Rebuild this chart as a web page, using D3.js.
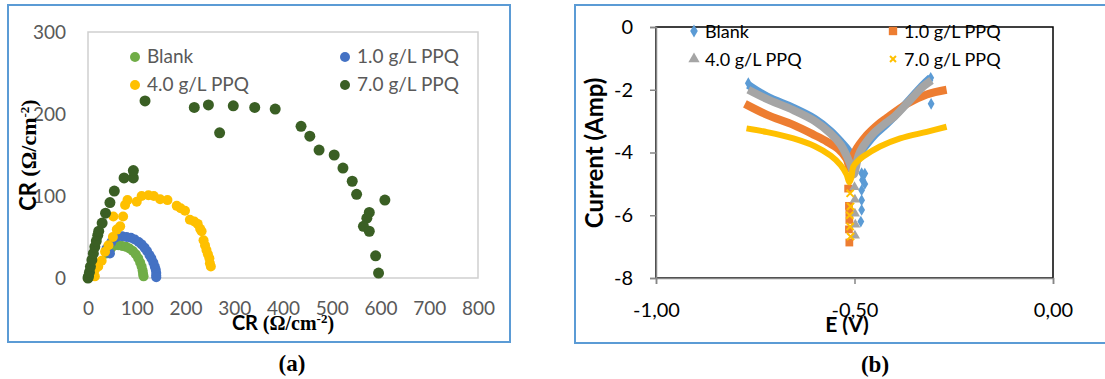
<!DOCTYPE html>
<html>
<head>
<meta charset="utf-8">
<script src="https://cdn.jsdelivr.net/npm/d3@7"></script>
<style>
  body { margin: 0; background: #fff; }
  svg { display: block; }
</style>
</head>
<body>
<div id="chart"></div>
<script>
// ---- (a) impedance data, [Z', Z''] ----
var blankNyq = [[0,0],[38,30],[42,34],[48,37],[55,40],[62,40],[70,39],[78,38],[85,36],[92,33],[98,29],[103,24],[107,19],[110,14],[112,9],[113,5],[114,2]];
var ppq1Nyq = [[38,36],[45,30],[48,44],[55,49],[62,51],[70,51],[79,50],[88,49],[96,47],[104,44],[110,41],[116,37],[121,33],[126,28],[130,24],[134,19],[137,14],[139,10],[140,6],[140,3],[140,1]];
var ppq4Nyq = [[0,0],[5,3],[14,2],[14,10],[21,14],[28,21],[35,32],[42,40],[51,50],[59,59],[52,75],[66,63],[72,75],[76,89],[81,95],[100,93],[110,100],[124,101],[135,100],[148,96],[163,95],[182,88],[190,85],[199,82],[209,71],[218,69],[225,66],[230,60],[233,57],[237,46],[240,40],[243,34],[246,29],[249,24],[250,18],[252,14]];
var ppq7Nyq = [[0,0],[1,2],[3,7],[5,14],[8,22],[11,30],[14,38],[17,45],[20,52],[22,57],[29,67],[36,79],[45,92],[54,106],[74,122],[93,122],[93,131],
  [117,216],[218,208],[247,211],[270,177],[298,210],[342,208],[384,206],[437,185],[455,173],[474,156],[505,150],[523,134],[542,118],[551,102],[609,95],[577,80],[572,73],[565,63],[577,57],[590,27],[596,6]];
var nyqTicksX = [0,100,200,300,400,500,600,700,800];
var nyqTicksY = [0,100,200,300];

// ---- (b) polarization data, [E (V), log current] ----
var blankBand = [[-0.7675,-1.85],[-0.72,-2.22],[-0.654,-2.58],[-0.6,-2.93],[-0.56,-3.32],[-0.535,-3.65],[-0.515,-3.95],[-0.503,-4.3],[-0.495,-4.3],[-0.485,-4.0],[-0.47,-3.75],[-0.45,-3.45],[-0.42,-3.1],[-0.4,-2.85],[-0.36,-2.3],[-0.33,-1.88],[-0.308,-1.62]];
var blankPts = [[-0.7675,-1.79],[-0.482,-4.66],[-0.474,-4.67],[-0.48,-4.88],[-0.474,-5.0],[-0.482,-5.2],[-0.482,-5.52],[-0.482,-5.83],[-0.484,-6.2],[-0.307,-2.45],[-0.308,-1.62]];
var ppq1Band = [[-0.776,-2.45],[-0.72,-2.8],[-0.654,-3.12],[-0.6,-3.45],[-0.57,-3.65],[-0.54,-3.9],[-0.52,-4.2],[-0.512,-4.5],[-0.508,-4.3],[-0.5,-4.0],[-0.469,-3.45],[-0.44,-3.1],[-0.419,-2.9],[-0.368,-2.45],[-0.318,-2.15],[-0.268,-2.0]];
var ppq1Pts = [[-0.516,-5.15],[-0.514,-5.7],[-0.513,-5.9],[-0.513,-6.15],[-0.514,-6.45],[-0.513,-6.87]];
var ppq4Band = [[-0.7675,-2.0],[-0.72,-2.3],[-0.654,-2.65],[-0.6,-3.0],[-0.56,-3.4],[-0.535,-3.75],[-0.52,-4.1],[-0.507,-4.5],[-0.502,-4.7],[-0.497,-4.5],[-0.49,-4.1],[-0.478,-3.8],[-0.453,-3.4],[-0.42,-3.05],[-0.4,-2.86],[-0.36,-2.33],[-0.327,-1.9],[-0.306,-1.7]];
var ppq4Pts = [[-0.5,-5.1],[-0.499,-5.5],[-0.499,-5.95],[-0.498,-6.3],[-0.499,-6.65]];
var ppq7Band = [[-0.772,-3.23],[-0.72,-3.35],[-0.654,-3.55],[-0.6,-3.8],[-0.56,-4.1],[-0.535,-4.4],[-0.52,-4.7],[-0.513,-4.95],[-0.508,-4.8],[-0.503,-4.45],[-0.49,-4.25],[-0.478,-4.13],[-0.436,-3.81],[-0.385,-3.55],[-0.318,-3.34],[-0.268,-3.18]];
var ppq7Pts = [[-0.511,-5.3],[-0.51,-5.72],[-0.512,-6.0],[-0.511,-6.36],[-0.51,-6.68]];
var tafTicksX = [-1, -0.5, 0];
var tafTicksY = [0,-2,-4,-6,-8];

var labels = ["Blank", "1.0 g/L PPQ", "4.0 g/L PPQ", "7.0 g/L PPQ"];

var svg = d3.select("#chart").append("svg")
  .attr("width", 1105)
  .attr("height", 379)
  .style("background", "#fff");

var sans = "Lato, 'Open Sans', sans-serif";
var serif = "'Liberation Serif', 'DejaVu Serif', serif";

// ================= panel (a) =================
svg.append("rect")
  .attr("x", 8).attr("y", 5).attr("width", 502).attr("height", 337)
  .attr("fill", "none").attr("stroke", "#5b9bd5").attr("stroke-width", 2);

var xa = d3.scaleLinear().domain([0, 800]).range([88, 478]);
var ya = d3.scaleLinear().domain([0, 300]).range([278, 32]);

svg.append("rect")
  .attr("x", 88).attr("y", 32).attr("width", 390).attr("height", 246)
  .attr("fill", "none").attr("stroke", "#cfcfcf").attr("stroke-width", 1.5);

var axA = svg.append("g").attr("transform", "translate(0,278)")
  .call(d3.axisBottom(xa).tickValues(nyqTicksX).tickSize(0).tickPadding(24).tickFormat(d3.format("d")));
var ayA = svg.append("g").attr("transform", "translate(88,0)")
  .call(d3.axisLeft(ya).tickValues(nyqTicksY).tickSize(0).tickPadding(22).tickFormat(d3.format("d")));
[axA, ayA].forEach(function (g) {
  g.select(".domain").remove();
  g.selectAll("text").attr("fill", "#595959").style("font-family", sans).style("font-size", "19px");
});

var nyqSeries = [
  { data: blankNyq, color: "#70ad47", r: 5 },
  { data: ppq1Nyq, color: "#4472c4", r: 5 },
  { data: ppq4Nyq, color: "#ffc000", r: 5 },
  { data: ppq7Nyq, color: "#3a5f24", r: 5.5 }
];
nyqSeries.forEach(function (s) {
  svg.append("g").selectAll("circle")
    .data(s.data)
    .enter()
    .append("circle")
    .attr("cx", function (d) { return xa(d[0]); })
    .attr("cy", function (d) { return ya(d[1]); })
    .attr("r", s.r)
    .style("fill", s.color);
});

// legend (a)
var legA = [[135, 57], [345, 57], [135, 85], [345, 85]];
legA.forEach(function (p, i) {
  svg.append("circle").attr("cx", p[0]).attr("cy", p[1]).attr("r", 5).style("fill", nyqSeries[i].color);
  svg.append("text").attr("x", p[0] + 12).attr("y", p[1] + 6)
    .text(labels[i]).attr("fill", "#595959")
    .style("font-family", sans).style("font-size", "19px");
});

function crTitle(g) {
  g.append("tspan").style("font-family", sans).text("CR ");
  g.append("tspan").style("font-family", serif).text("(Ω/cm");
  g.append("tspan").style("font-family", serif).attr("dy", -7).style("font-size", "13px").text("-2");
  g.append("tspan").style("font-family", serif).attr("dy", 7).text(")");
}
var xtA = svg.append("text").attr("x", 283).attr("y", 330).attr("text-anchor", "middle")
  .style("font-weight", "bold").style("font-size", "20px").attr("fill", "#000");
crTitle(xtA);
var ytA = svg.append("text").attr("transform", "translate(36,155) rotate(-90)").attr("text-anchor", "middle")
  .style("font-weight", "bold").style("font-size", "22px").attr("fill", "#000");
crTitle(ytA);

svg.append("text").attr("x", 292).attr("y", 371).attr("text-anchor", "middle")
  .style("font-family", serif).style("font-weight", "bold").style("font-size", "23px").text("(a)");

// ================= panel (b) =================
svg.append("rect")
  .attr("x", 575).attr("y", 5).attr("width", 540).attr("height", 338)
  .attr("fill", "none").attr("stroke", "#5b9bd5").attr("stroke-width", 2);

var xb = d3.scaleLinear().domain([-1, 0]).range([656, 1053]);
var yb = d3.scaleLinear().domain([-8, 0]).range([278, 27]);

svg.append("rect")
  .attr("x", 656).attr("y", 27).attr("width", 397).attr("height", 251)
  .attr("fill", "none").attr("stroke", "#000").attr("stroke-width", 1.5);

function commaFmt(d) { return d3.format(".2f")(d).replace(".", ",").replace("−", "-"); }
var axB = svg.append("g").attr("transform", "translate(0,278)")
  .call(d3.axisBottom(xb).tickValues(tafTicksX).tickSize(6).tickPadding(19).tickFormat(commaFmt));
var ayB = svg.append("g").attr("transform", "translate(656,0)")
  .call(d3.axisLeft(yb).tickValues(tafTicksY).tickSize(6).tickPadding(17).tickFormat(function (d) { return String(d).replace("−", "-"); }));
[axB, ayB].forEach(function (g) {
  g.select(".domain").attr("stroke", "#868686").attr("stroke-width", 1.5);
  g.selectAll("line").attr("stroke", "#868686").attr("stroke-width", 1.5);
  g.selectAll("text").attr("fill", "#000").style("font-family", sans).style("font-size", "20px");
});

var tafSeries = [
  { band: blankBand, pts: blankPts, color: "#5b9bd5", sym: d3.symbolDiamond, size: 40, w: 8 },
  { band: ppq1Band, pts: ppq1Pts, color: "#ed7d31", sym: d3.symbolSquare, size: 60, w: 8 },
  { band: ppq4Band, pts: ppq4Pts, color: "#a5a5a5", sym: d3.symbolTriangle, size: 45, w: 8 },
  { band: ppq7Band, pts: ppq7Pts, color: "#ffc000", sym: d3.symbolX, size: 35, w: 6 }
];
var line = d3.line()
  .x(function (d) { return xb(d[0]); })
  .y(function (d) { return yb(d[1]); })
  .curve(d3.curveCatmullRom);

tafSeries.forEach(function (s) {
  svg.append("path")
    .datum(s.band)
    .attr("d", line)
    .attr("fill", "none")
    .attr("stroke", s.color)
    .attr("stroke-width", s.w)
    .attr("stroke-linejoin", "round");
  var sym = d3.symbol().type(s.sym).size(s.size);
  svg.append("g").selectAll("path")
    .data(s.pts)
    .enter()
    .append("path")
    .attr("transform", function (d) { return "translate(" + xb(d[0]) + "," + yb(d[1]) + ")"; })
    .attr("d", sym)
    .attr("fill", s.sym === d3.symbolX ? "none" : s.color)
    .attr("stroke", s.sym === d3.symbolX ? s.color : "none")
    .attr("stroke-width", 2);
});

// legend (b)
var legB = [[694, 31], [893, 31], [694, 59], [893, 59]];
legB.forEach(function (p, i) {
  var s = tafSeries[i];
  var isX = s.sym === d3.symbolX;
  svg.append("path")
    .attr("transform", "translate(" + p[0] + "," + p[1] + ")")
    .attr("d", d3.symbol().type(s.sym).size(isX ? 25 : s.size + 10))
    .attr("fill", isX ? "none" : s.color)
    .attr("stroke", isX ? s.color : "none")
    .attr("stroke-width", 2);
  svg.append("text").attr("x", p[0] + 11).attr("y", p[1] + 7)
    .text(labels[i]).attr("fill", "#000")
    .style("font-family", sans).style("font-size", "18px");
});

svg.append("text").attr("x", 847).attr("y", 332).attr("text-anchor", "middle")
  .style("font-family", sans).style("font-weight", "bold").style("font-size", "21px").text("E (V)");
svg.append("text").attr("transform", "translate(603,153) rotate(-90)").attr("text-anchor", "middle")
  .style("font-family", sans).style("font-weight", "bold").style("font-size", "24px").text("Current (Amp)");

svg.append("text").attr("x", 875).attr("y", 372).attr("text-anchor", "middle")
  .style("font-family", serif).style("font-weight", "bold").style("font-size", "23px").text("(b)");
</script>
</body>
</html>
